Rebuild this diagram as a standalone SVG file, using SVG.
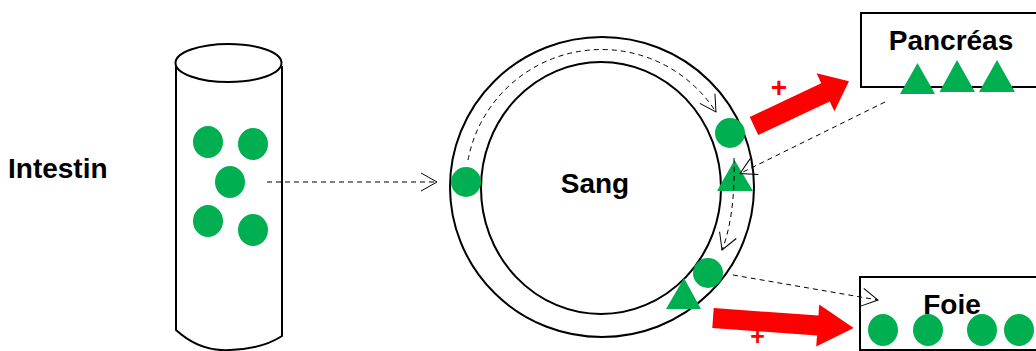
<svg xmlns="http://www.w3.org/2000/svg" width="1036" height="351" viewBox="0 0 1036 351">
<style>
.lbl{font-family:"Liberation Sans",Arial,sans-serif;font-weight:bold;font-size:28px;fill:#000}
.plus{font-family:"Liberation Sans",Arial,sans-serif;font-weight:bold;font-size:28px;fill:#FF0000}
.g{fill:#00B050}
.red{fill:#FF0000}
.outline{fill:#fff;stroke:#000;stroke-width:2}
.dash{fill:none;stroke:#000;stroke-width:1;stroke-dasharray:5 4;marker-end:url(#open)}
</style>
<defs>
<marker id="open" markerUnits="userSpaceOnUse" viewBox="-18 -10 20 20" refX="0" refY="0" markerWidth="20" markerHeight="20" orient="auto" overflow="visible">
<path d="M-16,-9 L0,0 L-16,9" fill="none" stroke="#000" stroke-width="1"/>
</marker>
</defs>
<rect width="1036" height="351" fill="#fff"/>

<g id="intestin-label"><text class="lbl" x="8" y="178">Intestin</text></g>

<g id="intestin">
<path class="outline" d="M176,63 L176,330 Q200,352 230,350 Q262,349 282,336 L282,66"/>
<ellipse class="outline" cx="228.5" cy="63" rx="53" ry="19"/>
<ellipse class="g" cx="208" cy="142" rx="15" ry="16"/>
<ellipse class="g" cx="253" cy="144" rx="15" ry="16"/>
<ellipse class="g" cx="230" cy="182" rx="15" ry="16"/>
<ellipse class="g" cx="208" cy="221" rx="15" ry="16"/>
<ellipse class="g" cx="253" cy="230" rx="15" ry="16"/>
</g>

<g id="sang">
<ellipse class="outline" cx="602" cy="187" rx="152" ry="150"/>
<ellipse class="outline" cx="601" cy="188" rx="120" ry="126"/>
<text class="lbl" x="595" y="193" text-anchor="middle">Sang</text>
<circle class="g" cx="466" cy="182" r="15"/>
<circle class="g" cx="730" cy="133" r="15"/>
<circle class="g" cx="708" cy="273" r="15"/>
<polygon class="g" points="734.5,160 717,191 753,191"/>
<polygon class="g" points="684,278 666,309 701,309"/>
</g>

<g id="pancreas">
<rect class="outline" x="861" y="13" width="200" height="74"/>
<text class="lbl" x="951" y="50" text-anchor="middle">Pancréas</text>
<polygon class="g" points="917.5,63 900,94 935,94"/>
<polygon class="g" points="957,60 939.5,92 975,92"/>
<polygon class="g" points="997,60 979,92 1015,92"/>
</g>

<g id="foie">
<rect class="outline" x="860" y="277" width="200" height="73"/>
<text class="lbl" x="952" y="314" text-anchor="middle">Foie</text>
<ellipse class="g" cx="883" cy="330" rx="15" ry="16"/>
<ellipse class="g" cx="928" cy="330" rx="15" ry="16"/>
<ellipse class="g" cx="982" cy="330" rx="15" ry="16"/>
<ellipse class="g" cx="1019" cy="330" rx="15" ry="16"/>
</g>

<g id="connectors">
<path class="dash" d="M267,182 L437,182"/>
<path class="dash" d="M468,160 A136,136 0 0 1 716,112"/>
<path class="dash" d="M734,158 C735,190 732,225 722,250"/>
<path class="dash" d="M885,102 L740,173.5"/>
<path class="dash" d="M733,275 L878,300"/>
<polygon class="red" transform="translate(754,126) rotate(-25.2)" points="0,-10 79,-10 79,-21 105,0 79,21 79,10 0,10"/>
<polygon class="red" transform="translate(713,318) rotate(4.1)" points="0,-10 105,-10 105,-21 141,0 105,21 105,10 0,10"/>
<text class="plus" x="779" y="97" text-anchor="middle">+</text>
<text class="plus" x="757.5" y="345" text-anchor="middle" style="font-size:25px">+</text>
</g>
</svg>
